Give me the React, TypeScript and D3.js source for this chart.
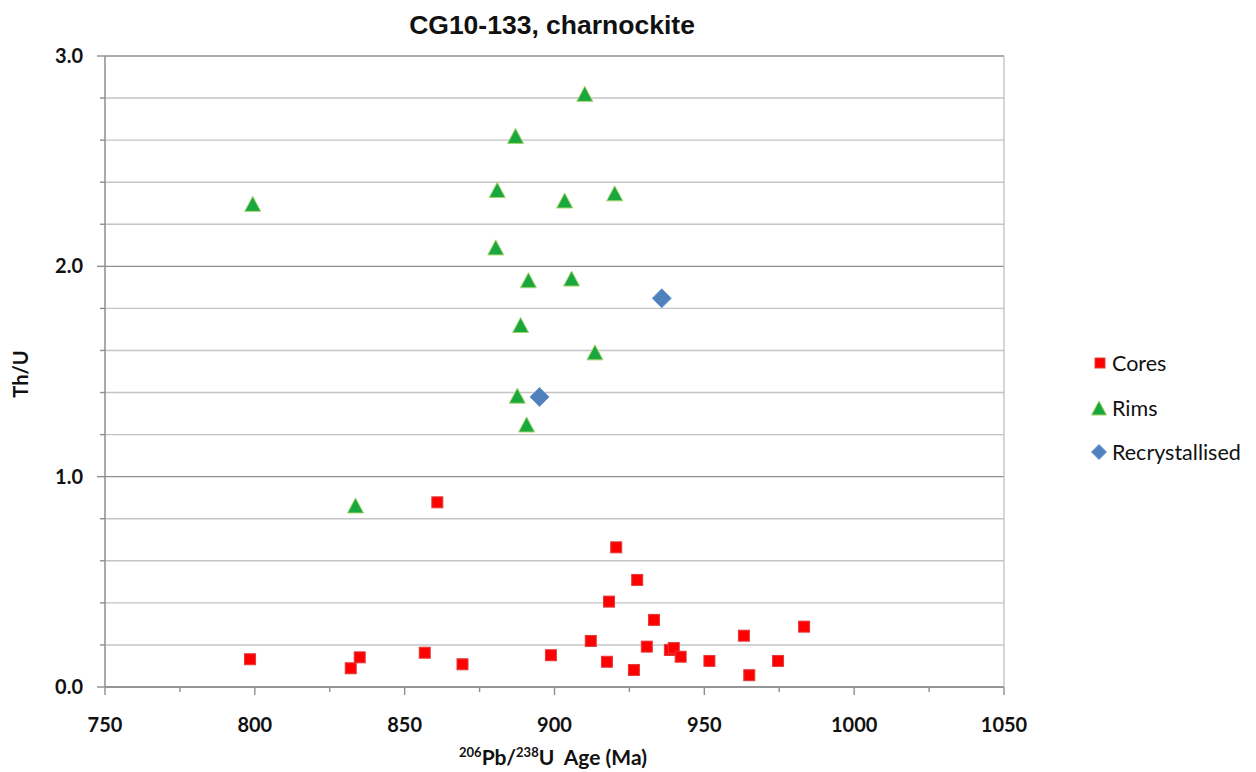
import React from "react";
import * as d3 from "d3";

const coresAge = [860.9, 920.6, 927.6, 918.2, 933.2, 912.1, 917.5, 926.5, 930.8, 938.5, 939.8, 942.1, 951.7, 963.2, 965.0, 974.6, 983.3, 798.4, 832.0, 835.0, 856.7, 869.3, 898.8];
const coresThU = [0.878, 0.664, 0.509, 0.406, 0.319, 0.219, 0.12, 0.081, 0.192, 0.176, 0.185, 0.144, 0.124, 0.244, 0.056, 0.124, 0.287, 0.132, 0.089, 0.141, 0.163, 0.108, 0.151];

const rimsAge = [799.3, 910.1, 887.0, 880.9, 903.4, 920.1, 880.4, 891.3, 905.7, 888.7, 913.5, 887.6, 890.7, 833.6];
const rimsThU = [2.297, 2.82, 2.62, 2.363, 2.313, 2.347, 2.09, 1.934, 1.942, 1.721, 1.591, 1.385, 1.248, 0.863];

const recrystAge = [935.8, 895.0];
const recrystThU = [1.848, 1.379];

const xTickLabels = [750, 800, 850, 900, 950, 1000, 1050];
const yTickLabels = [0.0, 1.0, 2.0, 3.0];

const W = 1256, H = 772;
const L = 105, R = 1004, T = 56, B = 687;

const x = d3.scaleLinear().domain([750, 1050]).range([L, R]);
const y = d3.scaleLinear().domain([0, 3]).range([B, T]);

const CORE = "#ff0000";
const RIM = "#18a83d";
const REC = "#4f81bd";
const FONT = "Lato, 'Open Sans', sans-serif";

function Square({ cx, cy, s = 11 }: { cx: number; cy: number; s?: number }) {
  return <rect x={cx - s / 2} y={cy - s / 2} width={s} height={s} fill={CORE} stroke="#e23c3c" strokeWidth={1} />;
}
function Tri({ cx, cy, w = 16, h = 15 }: { cx: number; cy: number; w?: number; h?: number }) {
  const p = `${cx},${cy - h / 2} ${cx + w / 2},${cy + h / 2} ${cx - w / 2},${cy + h / 2}`;
  return <polygon points={p} fill={RIM} stroke="#a5d46a" strokeWidth={1} strokeLinejoin="miter" />;
}
function Dia({ cx, cy, s = 19 }: { cx: number; cy: number; s?: number }) {
  const r = s / 2;
  const p = `${cx},${cy - r} ${cx + r},${cy} ${cx},${cy + r} ${cx - r},${cy}`;
  return <polygon points={p} fill={REC} stroke="#6a98d0" strokeWidth={1} />;
}

export default function App() {
  const yMinor = d3.range(0, 3.0001, 0.2).map((v) => +v.toFixed(1));
  const xTicks = d3.range(750, 1050.001, 25);
  return (
    <svg width={W} height={H} style={{ position: "absolute", left: 0, top: 0, background: "#fff" }}>
      <rect x={0} y={0} width={W} height={H} fill="#fff" />
      {yMinor.map((v) => {
        const major = Math.abs(v - Math.round(v)) < 1e-6;
        return (
          <line key={"g" + v} x1={L} x2={R} y1={y(v)} y2={y(v)} stroke={major ? "#8e8e8e" : "#c4c4c4"} strokeWidth={1.4} />
        );
      })}
      {yMinor.map((v) => {
        const major = Math.abs(v - Math.round(v)) < 1e-6;
        return <line key={"yt" + v} x1={major ? L - 8 : L - 5} x2={L} y1={y(v)} y2={y(v)} stroke="#8e8e8e" strokeWidth={1.4} />;
      })}
      {xTicks.map((v) => {
        const major = v % 50 === 0;
        return <line key={"xt" + v} x1={x(v)} x2={x(v)} y1={B} y2={B + (major ? 8 : 5)} stroke="#8e8e8e" strokeWidth={1.4} />;
      })}
      <line x1={L} x2={L} y1={T} y2={B} stroke="#8e8e8e" strokeWidth={1.5} />
      <line x1={L} x2={R} y1={B} y2={B} stroke="#8e8e8e" strokeWidth={1.5} />
      <line x1={R} x2={R} y1={T} y2={B} stroke="#c4c4c4" strokeWidth={1.4} />

      {yTickLabels.map((v) => (
        <text key={"yl" + v} x={83} y={y(v)} dy="0.35em" textAnchor="end" fontFamily={FONT} fontWeight="bold" fontSize={20} fill="#111">
          {v.toFixed(1)}
        </text>
      ))}
      {xTickLabels.map((v) => (
        <text key={"xl" + v} x={x(v)} y={725} dy="0.35em" textAnchor="middle" fontFamily={FONT} fontWeight="bold" fontSize={20} fill="#111">
          {v}
        </text>
      ))}

      <text x={552} y={34} textAnchor="middle" fontFamily="'Liberation Sans', Arial, sans-serif" fontWeight="bold" fontSize={26.5} fill="#111">
        CG10-133, charnockite
      </text>
      <text transform="translate(28,374) rotate(-90)" textAnchor="middle" fontFamily={FONT} fontWeight="bold" fontSize={20} fill="#111">
        Th/U
      </text>
      <text x={553} y={765} textAnchor="middle" fontFamily={FONT} fontWeight="bold" fontSize={21} fill="#111">
        <tspan fontSize={13} dy="-8">206</tspan>
        <tspan dy="8">Pb/</tspan>
        <tspan fontSize={13} dy="-8">238</tspan>
        <tspan dy="8">{"U\u00a0\u00a0Age (Ma)"}</tspan>
      </text>

      {coresAge.map((a, i) => (
        <Square key={"c" + i} cx={x(a)} cy={y(coresThU[i])} />
      ))}
      {rimsAge.map((a, i) => (
        <Tri key={"r" + i} cx={x(a)} cy={y(rimsThU[i])} />
      ))}
      {recrystAge.map((a, i) => (
        <Dia key={"d" + i} cx={x(a)} cy={y(recrystThU[i])} />
      ))}

      <Square cx={1100} cy={363} s={10} />
      <text x={1112} y={363} dy="0.35em" fontFamily={FONT} fontSize={21.5} fill="#111">Cores</text>
      <Tri cx={1099} cy={408} w={15} h={14} />
      <text x={1112} y={408} dy="0.35em" fontFamily={FONT} fontSize={21.5} fill="#111">Rims</text>
      <Dia cx={1099} cy={452} s={15} />
      <text x={1112} y={452} dy="0.35em" fontFamily={FONT} fontSize={21.5} fill="#111">Recrystallised</text>
    </svg>
  );
}
